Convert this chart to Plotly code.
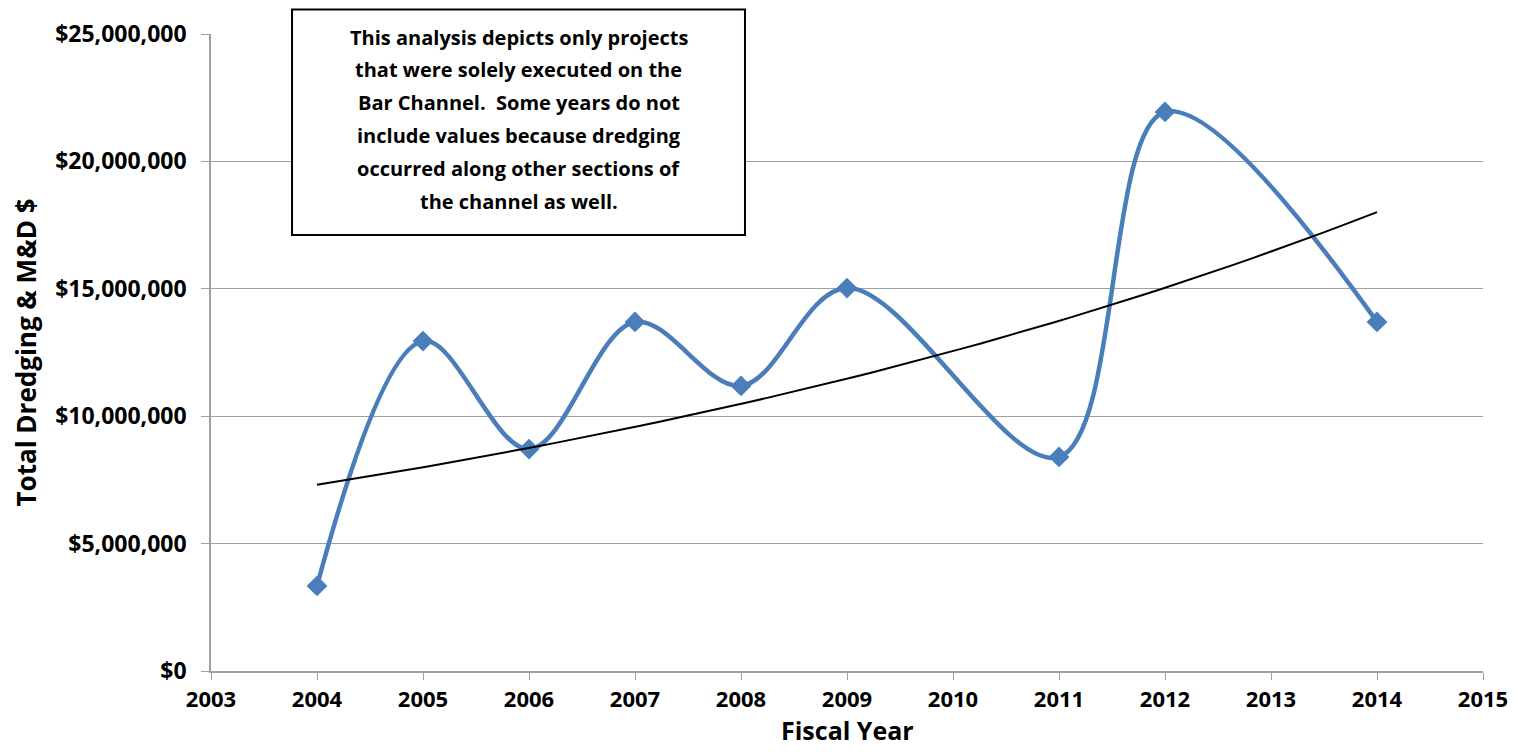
import numpy as np
import plotly.graph_objects as go

years = [2004, 2005, 2006, 2007, 2008, 2009, 2011, 2012, 2014]
costs = [3.34e6, 12.95e6, 8.71e6, 13.70e6, 11.19e6, 15.03e6, 8.40e6, 21.94e6, 13.70e6]
y_ticks = [0, 5e6, 10e6, 15e6, 20e6, 25e6]
y_tick_labels = ["$0", "$5,000,000", "$10,000,000", "$15,000,000", "$20,000,000", "$25,000,000"]
x_ticks = list(range(2003, 2016))
note_lines = [
    "This analysis depicts only projects",
    "that were solely executed on the",
    "Bar Channel.  Some years do not",
    "include values because dredging",
    "occurred along other sections of",
    "the channel as well.",
]

# exponential trendline (least squares on log values)
b, a = np.polyfit(np.array(years, float), np.log(costs), 1)
tx = np.linspace(2004, 2014, 60)
ty = np.exp(a + b * tx)

FONT = "Open Sans"
W, H = 1502, 740
L, R, T, B = 203, 27, 26, 77
plot_h = H - T - B


def py(px):
    """figure-pixel y (from top) -> paper coordinate"""
    return (H - B - px) / plot_h


fig = go.Figure()
fig.add_trace(go.Scatter(
    x=years, y=costs, mode="lines+markers",
    line=dict(color="#4A7EBB", width=4.5, shape="spline", smoothing=1.0),
    marker=dict(symbol="diamond", size=16, color="#4A7EBB"),
    showlegend=False, hoverinfo="skip"))
fig.add_trace(go.Scatter(
    x=tx, y=ty, mode="lines", line=dict(color="black", width=2),
    showlegend=False, hoverinfo="skip"))

fig.add_shape(type="rect", xref="paper", yref="paper",
              x0=0.0637, x1=0.4198, y0=py(227), y1=py(1.5),
              line=dict(color="black", width=2), fillcolor="white", layer="above")
first_line_px = 37 - 8
for i, line in enumerate(note_lines):
    fig.add_annotation(x=0.2418, y=py(first_line_px + i * 32.8), xref="paper", yref="paper",
                       text="<b>" + line + "</b>", showarrow=False,
                       font=dict(family=FONT, size=20, color="black"),
                       xanchor="center", yanchor="middle")

# x-axis title (kept inside the figure's bottom edge)
fig.add_annotation(x=0.5, y=py(H), xref="paper", yref="paper",
                   text="<b>Fiscal Year</b>", showarrow=False, borderpad=0,
                   font=dict(family=FONT, size=25, color="black"),
                   xanchor="center", yanchor="bottom")

fig.update_layout(
    width=W, height=H,
    margin=dict(l=L, r=R, t=T, b=B, autoexpand=False),
    plot_bgcolor="white", paper_bgcolor="white",
    font=dict(family=FONT, color="black"),
    xaxis=dict(range=[2003, 2015], tickmode="array", tickvals=x_ticks,
               ticktext=["<b>%d</b>" % v for v in x_ticks], automargin=False,
               showgrid=False, zeroline=False, showline=True, linecolor="#A0A0A0",
               linewidth=1.5, ticks="outside", ticklen=7, tickcolor="#A0A0A0",
               tickfont=dict(size=22, family=FONT), ticklabelstandoff=1),
    yaxis=dict(range=[0, 25e6], tickmode="array", tickvals=y_ticks,
               ticktext=["<b>%s</b>" % t for t in y_tick_labels], automargin=False,
               showgrid=True, gridcolor="#A0A0A0", gridwidth=1, zeroline=False,
               showline=True, linecolor="#A0A0A0", linewidth=1.5,
               ticks="outside", ticklen=8, tickcolor="#A0A0A0",
               tickfont=dict(size=23, family=FONT), ticklabelstandoff=10,
               title=dict(text="<b>Total Dredging & M&D $</b>", font=dict(size=26, family=FONT), standoff=12)),
)
fig.write_html("out.html")
